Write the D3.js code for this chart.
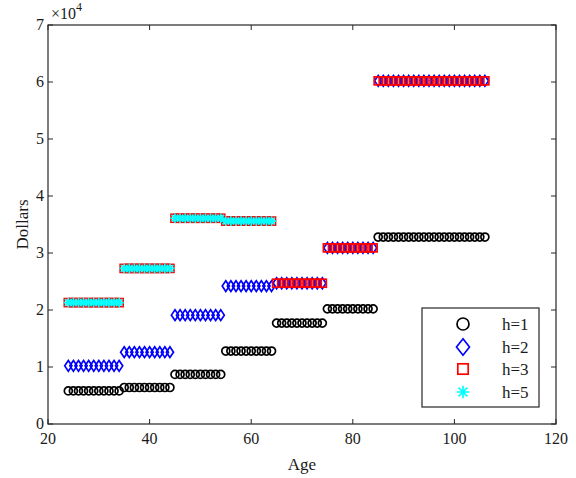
<!DOCTYPE html>
<html><head><meta charset="utf-8">
<script src="https://cdn.jsdelivr.net/npm/d3@7/dist/d3.min.js"></script>
<style>body{margin:0;background:#fff}svg{display:block}text{font-family:"Liberation Serif","Times New Roman",serif;fill:#1a1a1a}</style>
</head><body><svg id="c" width="576" height="478"></svg>
<script>
// Age groups (first and last age of each step)
const groupStart = [24, 35, 45, 55, 65, 75, 85];
const groupEnd   = [34, 44, 54, 64, 74, 84, 106];
// Dollar values per age group for each h
const h1 = [5800, 6400, 8700, 12800, 17700, 20200, 32800];
const h2 = [10200, 12600, 19100, 24200, 24700, 30900, 60200];
const h3 = [21300, 27300, 36100, 35600, 24700, 30900, 60200];
const h5 = [21300, 27300, 36100, 35600, null, null, null];
const seriesNames = ["h=1", "h=2", "h=3", "h=5"];
const xTicks = [20, 40, 60, 80, 100, 120];
const yTicks = [0, 1, 2, 3, 4, 5, 6, 7];

const svg = d3.select("#c");
const L = 48, R = 556, T = 25, B = 424;
const x = d3.scaleLinear().domain([20, 120]).range([L, R]);
const y = d3.scaleLinear().domain([0, 70000]).range([B, T]);
const axisCol = "#262626";

function expand(vals) {
  const pts = [];
  vals.forEach((v, i) => {
    if (v == null) return;
    for (let a = groupStart[i]; a <= groupEnd[i]; a++) pts.push([a, v]);
  });
  return pts;
}

const g = svg.append("g");
const sw = 1.7;
function drawMarker(sel, type, size) {
  if (type === "o") {
    sel.append("circle").attr("r", size.r).attr("fill", "none").attr("stroke", "#000").attr("stroke-width", sw);
  } else if (type === "d") {
    sel.append("path").attr("d", `M0,${-size.h}L${size.w},0L0,${size.h}L${-size.w},0Z`)
      .attr("fill", "none").attr("stroke", "#0000ff").attr("stroke-width", sw);
  } else if (type === "s") {
    sel.append("rect").attr("x", -size.s).attr("y", -size.s).attr("width", 2 * size.s).attr("height", 2 * size.s)
      .attr("fill", "none").attr("stroke", "#ff0000").attr("stroke-width", sw);
  } else if (type === "*") {
    const a = size.a, d = a * 0.7071;
    sel.append("path").attr("d", `M${-a},0L${a},0M0,${-a}L0,${a}M${-d},${-d}L${d},${d}M${-d},${d}L${d},${-d}`)
      .attr("fill", "none").attr("stroke", "#00ffff").attr("stroke-width", sw);
  }
}
const plotSizes = {o: {r: 4}, d: {w: 3.6, h: 5.4}, s: {s: 4}, "*": {a: 4.8}};
const legSizes = {o: {r: 6}, d: {w: 6.5, h: 8.2}, s: {s: 5.2}, "*": {a: 6.2}};
const types = ["o", "d", "s", "*"];
[h1, h2, h3, h5].forEach((vals, k) => {
  g.selectAll(null).data(expand(vals)).enter().append("g")
    .attr("transform", d => `translate(${x(d[0])},${y(d[1])})`)
    .each(function () { drawMarker(d3.select(this), types[k], plotSizes[types[k]]); });
});

// Axes box
const ax = svg.append("g");
ax.append("rect").attr("x", L).attr("y", T).attr("width", R - L).attr("height", B - T)
  .attr("fill", "none").attr("stroke", axisCol).attr("stroke-width", 1.2);
const tl = 5;
xTicks.forEach(t => {
  ax.append("line").attr("x1", x(t)).attr("x2", x(t)).attr("y1", B).attr("y2", B - tl).attr("stroke", axisCol);
  ax.append("line").attr("x1", x(t)).attr("x2", x(t)).attr("y1", T).attr("y2", T + tl).attr("stroke", axisCol);
  ax.append("text").attr("x", x(t)).attr("y", B + 20).attr("text-anchor", "middle").attr("font-size", 16).text(t);
});
yTicks.forEach(t => {
  const yy = y(t * 10000);
  ax.append("line").attr("x1", L).attr("x2", L + tl).attr("y1", yy).attr("y2", yy).attr("stroke", axisCol);
  ax.append("line").attr("x1", R).attr("x2", R - tl).attr("y1", yy).attr("y2", yy).attr("stroke", axisCol);
  ax.append("text").attr("x", L - 4).attr("y", yy + 5).attr("text-anchor", "end").attr("font-size", 16).text(t);
});
const ex = ax.append("text").attr("x", L + 3).attr("y", T - 6).attr("font-size", 16);
ex.append("tspan").text("\u00d710");
ex.append("tspan").attr("dy", -8).attr("font-size", 12).text("4");

svg.append("text").attr("x", (L + R) / 2).attr("y", 470).attr("text-anchor", "middle").attr("font-size", 17).text("Age");
svg.append("text").attr("transform", `translate(28,${(T + B) / 2}) rotate(-90)`).attr("text-anchor", "middle")
  .attr("font-size", 17).text("Dollars");

// Legend
const lg = svg.append("g").attr("transform", "translate(422,308)");
lg.append("rect").attr("width", 117).attr("height", 99).attr("fill", "#fff").attr("stroke", axisCol).attr("stroke-width", 1.2);
const rowsY = [16, 39, 61, 84];
seriesNames.forEach((n, i) => {
  const r = lg.append("g").attr("transform", `translate(41,${rowsY[i]})`);
  drawMarker(r, types[i], legSizes[types[i]]);
  lg.append("text").attr("x", 80).attr("y", rowsY[i] + 5.5).attr("font-size", 17).text(n);
});
</script></body></html>
